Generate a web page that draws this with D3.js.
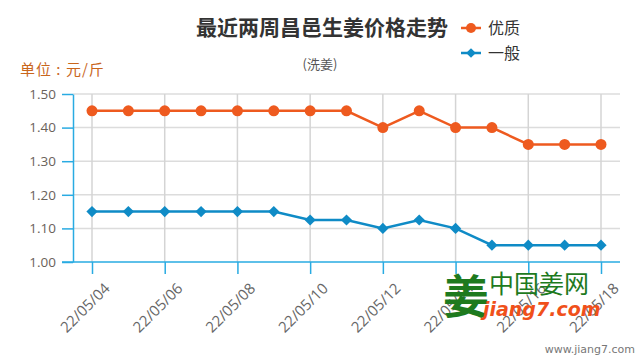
<!DOCTYPE html>
<html><head><meta charset="utf-8">
<script src="https://cdn.jsdelivr.net/npm/d3@7"></script>
<style>body{margin:0;background:#fff}svg{display:block}</style>
</head><body><svg id="c" width="640" height="360"></svg>
<script>
const dates = ["22/05/04","22/05/05","22/05/06","22/05/07","22/05/08","22/05/09","22/05/10","22/05/11","22/05/12","22/05/13","22/05/14","22/05/15","22/05/16","22/05/17","22/05/18"];
const youzhi = [1.45,1.45,1.45,1.45,1.45,1.45,1.45,1.45,1.40,1.45,1.40,1.40,1.35,1.35,1.35];
const yiban = [1.15,1.15,1.15,1.15,1.15,1.15,1.125,1.125,1.10,1.125,1.10,1.05,1.05,1.05,1.05];
const yTicks = [1.00,1.10,1.20,1.30,1.40,1.50];
const labelDates = dates.filter((d,i)=>i%2===0);

const svg = d3.select("#c");
const font = "'Noto Sans CJK SC', 'Open Sans', sans-serif";
const axisColor = "#29abe2";
const orange = "#ee5a1f", blue = "#0f8bc6";

const x = d3.scalePoint().domain(dates).range([92, 601]);
const y = d3.scaleLinear().domain([1.0, 1.5]).range([262, 94]);

// horizontal grid
svg.append("g").selectAll("line").data(yTicks.slice(1)).join("line")
  .attr("x1",73).attr("x2",620).attr("y1",d=>y(d)).attr("y2",d=>y(d))
  .attr("stroke","#dcdcdc").attr("stroke-width",1.5);
// vertical grid
svg.append("g").selectAll("line").data(labelDates).join("line")
  .attr("x1",d=>x(d)).attr("x2",d=>x(d)).attr("y1",94).attr("y2",262)
  .attr("stroke","#d4d4d4").attr("stroke-width",1.5);

// y axis
const yAxis = svg.append("g").attr("transform","translate(73,0)")
  .call(d3.axisLeft(y).tickValues(yTicks).tickFormat(d3.format(".2f")).tickSize(11).tickSizeOuter(0).tickPadding(6));
yAxis.select(".domain").attr("stroke",axisColor).attr("stroke-width",1.5);
yAxis.selectAll(".tick line").attr("stroke",axisColor).attr("stroke-width",1.5);
yAxis.selectAll("text").attr("fill","#6a625a").attr("font-family","'Open Sans', sans-serif").attr("font-size",13.5);

// x axis
const xAxis = svg.append("g").attr("transform","translate(0,262)")
  .call(d3.axisBottom(x).tickValues(labelDates).tickSize(12).tickSizeOuter(0).tickPadding(4));
xAxis.select(".domain").attr("d","M62,0H620").attr("stroke",axisColor).attr("stroke-width",1.5);
xAxis.selectAll(".tick line").attr("stroke",axisColor).attr("stroke-width",1.5);
xAxis.selectAll("text").attr("fill","#666").attr("font-family","'Open Sans', sans-serif").attr("font-size",15)
  .attr("text-anchor","end").attr("dy","0").attr("transform","translate(7,16) rotate(-45)");

// lines
const line = d3.line().x((d,i)=>x(dates[i])).y(d=>y(d));
svg.append("path").datum(youzhi).attr("d",line).attr("fill","none").attr("stroke",orange).attr("stroke-width",2.5);
svg.append("path").datum(yiban).attr("d",line).attr("fill","none").attr("stroke",blue).attr("stroke-width",2.5);
svg.append("g").selectAll("circle").data(youzhi).join("circle")
  .attr("cx",(d,i)=>x(dates[i])).attr("cy",d=>y(d)).attr("r",5.5).attr("fill",orange);
const diamond = d3.symbol().type(d3.symbolDiamond2).size(80);
svg.append("g").selectAll("path").data(yiban).join("path")
  .attr("d",diamond).attr("transform",(d,i)=>`translate(${x(dates[i])},${y(d)})`).attr("fill",blue);

// titles
svg.append("text").attr("x",322).attr("y",35).attr("text-anchor","middle").attr("font-family",font)
  .attr("font-size",21).attr("font-weight","bold").attr("fill","#333").text("最近两周昌邑生姜价格走势");
svg.append("text").attr("x",320).attr("y",69).attr("text-anchor","middle").attr("font-family",font)
  .attr("font-size",13).attr("fill","#555").text("(洗姜)");
svg.append("text").attr("x",20).attr("y",75).attr("font-family",font).attr("letter-spacing",1)
  .attr("font-size",15).attr("fill","#c9661c").text("单位 : 元/斤");

// legend
const leg = [{n:"优质",c:orange,t:"c",yy:32},{n:"一般",c:blue,t:"d",yy:57}];
leg.forEach(l=>{
  svg.append("line").attr("x1",461).attr("x2",481).attr("y1",l.yy-4).attr("y2",l.yy-4).attr("stroke",l.c).attr("stroke-width",2.5);
  if(l.t==="c") svg.append("circle").attr("cx",471).attr("cy",l.yy-4).attr("r",5).attr("fill",l.c);
  else svg.append("path").attr("d",d3.symbol().type(d3.symbolDiamond2).size(60)).attr("transform",`translate(471,${l.yy-4})`).attr("fill",l.c);
  svg.append("text").attr("x",488).attr("y",l.yy+2).attr("font-family",font).attr("font-size",16).attr("fill","#333").text(l.n);
});

// watermark
const wm = svg.append("g");
wm.append("text").attr("x",443).attr("y",313).attr("font-family",font).attr("font-size",46).attr("font-weight","bold").attr("fill","#1e7a1e").text("姜");
wm.append("text").attr("x",489).attr("y",293).attr("font-family",font).attr("font-size",25).attr("fill","#1e7a1e").text("中国姜网");
wm.append("text").attr("x",483).attr("y",316).attr("font-family","'DejaVu Sans', sans-serif").attr("font-size",19).attr("font-weight","bold").attr("font-style","italic").attr("fill","#f0501a").text("jiang7.com");
svg.append("text").attr("x",635).attr("y",353).attr("text-anchor","end").attr("font-family","'DejaVu Sans', sans-serif").attr("font-size",11).attr("fill","#777").text("www.jiang7.com");
</script></body></html>
